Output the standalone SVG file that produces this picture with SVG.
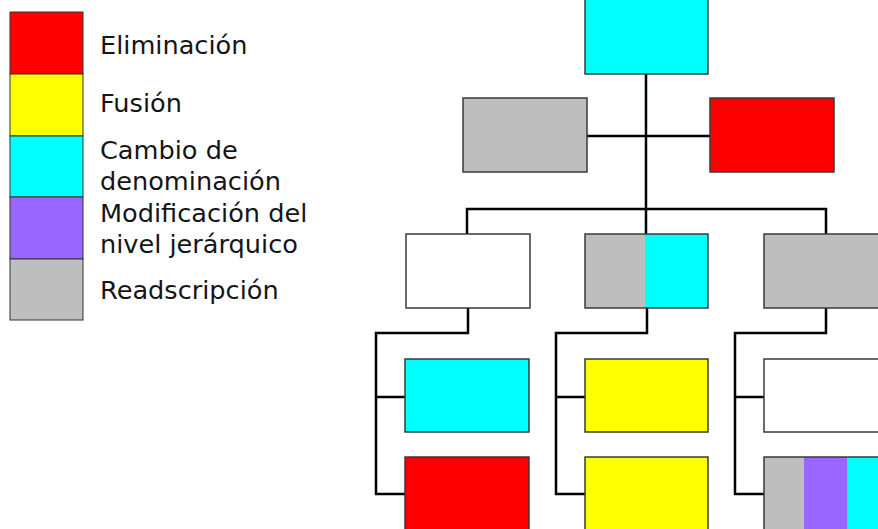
<svg xmlns="http://www.w3.org/2000/svg" width="878" height="529" viewBox="0 0 878 529">
<style>
.b{stroke:#3a3a3a;stroke-width:1.5}
.lg{stroke:#333;stroke-width:1}
.t{font-family:"DejaVu Sans",sans-serif;font-size:25.6px;fill:#151515}
.c{fill:none;stroke:#000;stroke-width:2.5;stroke-linejoin:miter}
.r{fill:#FF0000}.y{fill:#FFFF00}.cy{fill:#00FFFF}.p{fill:#9966FF}.g{fill:#BEBEBE}.w{fill:#FFFFFF}
</style>
<rect width="878" height="529" fill="#fff"/>
<g id="legend">
<rect class="r lg" x="10" y="12" width="73" height="62"/>
<rect class="y lg" x="10" y="74" width="73" height="62"/>
<rect class="cy lg" x="10" y="136" width="73" height="61"/>
<rect class="p lg" x="10" y="197" width="73" height="62"/>
<rect class="g lg" x="10" y="259" width="73" height="61"/>
<text class="t" x="100" y="54">Eliminación</text>
<text class="t" x="100" y="112">Fusión</text>
<text class="t" x="100" y="159">Cambio de</text>
<text class="t" x="100" y="190">denominación</text>
<text class="t" x="100" y="222">Modificación del</text>
<text class="t" x="100" y="253">nivel jerárquico</text>
<text class="t" x="100" y="299">Readscripción</text>
</g>
<g id="connectors">
<path class="c" d="M646,74 V234"/>
<path class="c" d="M587,136 H710"/>
<path class="c" d="M467,234 V209 H826 V234"/>
<path class="c" d="M468,308 V333 H376 V494 H405 M376,397 H405"/>
<path class="c" d="M647,308 V333 H556 V494 H585 M556,397 H585"/>
<path class="c" d="M826,308 V333 H735 V494 H764 M735,397 H764"/>
</g>
<g id="n-top"><rect class="cy b" x="585" y="-2" width="123" height="76"/></g>
<g id="n-l2a"><rect class="g b" x="463" y="98" width="124" height="74"/></g>
<g id="n-l2b"><rect class="r b" x="710" y="98" width="124" height="74"/></g>
<g id="n-l3a"><rect class="w b" x="406" y="234" width="124" height="74"/></g>
<g id="n-l3b">
<rect class="g" x="585" y="234" width="60" height="74"/>
<rect class="cy" x="645" y="234" width="63" height="74"/>
<rect fill="none" class="b" x="585" y="234" width="123" height="74"/>
</g>
<g id="n-l3c"><rect class="g b" x="764" y="234" width="120" height="74"/></g>
<g id="n-a1"><rect class="cy b" x="405" y="359" width="124" height="73"/></g>
<g id="n-a2"><rect class="r b" x="405" y="457" width="124" height="80"/></g>
<g id="n-b1"><rect class="y b" x="585" y="359" width="123" height="73"/></g>
<g id="n-b2"><rect class="y b" x="585" y="457" width="123" height="80"/></g>
<g id="n-c1"><rect class="w b" x="764" y="359" width="120" height="73"/></g>
<g id="n-c2">
<rect class="g" x="764" y="457" width="40" height="80"/>
<rect class="p" x="804" y="457" width="43" height="80"/>
<rect class="cy" x="847" y="457" width="37" height="80"/>
<rect fill="none" class="b" x="764" y="457" width="120" height="80"/>
</g>
</svg>
